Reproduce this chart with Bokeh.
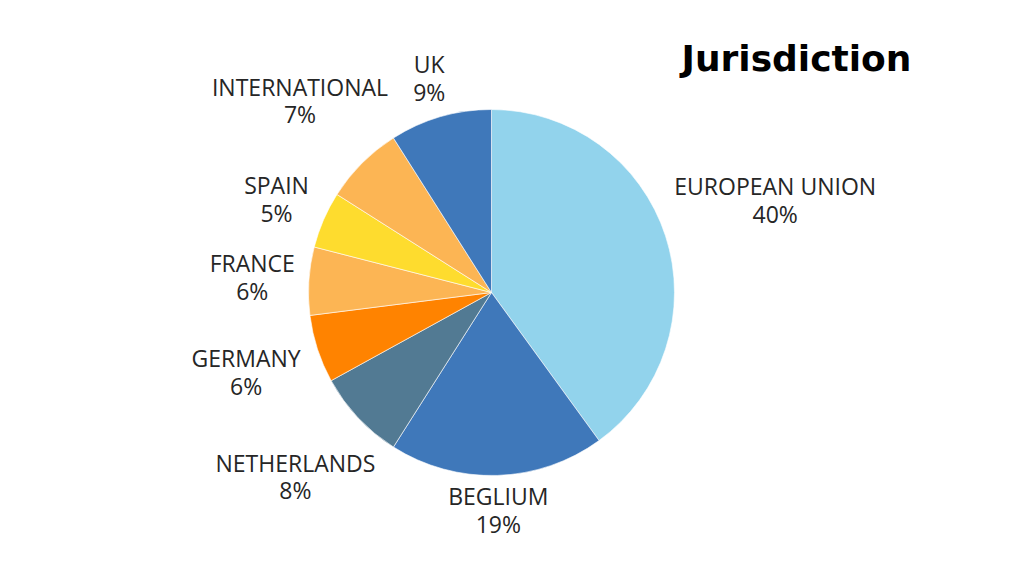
import math
from bokeh.plotting import figure
from bokeh.models import Range1d, ColumnDataSource
from bokeh.core.properties import value
from bokeh.embed import file_html
from bokeh.resources import INLINE

categories = ["EUROPEAN UNION", "BEGLIUM", "NETHERLANDS", "GERMANY", "FRANCE", "SPAIN", "INTERNATIONAL", "UK"]
shares = [40, 19, 8, 6, 6, 5, 7, 9]
colors = ["#92D3EC", "#3F78BA", "#527A93", "#FF8300", "#FCB554", "#FEDC2E", "#FCB554", "#3F78BA"]
# radial distance factor of each label (layout)
label_r = [1.63, 1.19, 1.47, 1.41, 1.31, 1.28, 1.48, 1.22]

W, H = 1008, 560
cx, cy, R = 491, 284, 183

p = figure(width=W, height=H, output_backend="svg", toolbar_location=None,
           x_range=Range1d(0, W), y_range=Range1d(576 - H, 576),
           min_border=0)
p.axis.visible = False
p.grid.visible = False
p.outline_line_color = None
p.background_fill_color = "white"
p.border_fill_color = "white"

total = sum(shares)
starts, ends, lx, ly_name, ly_pct, pct = [], [], [], [], [], []
cum = 0
for s, f in zip(shares, label_r):
    a0 = math.pi / 2 - 2 * math.pi * cum / total
    cum += s
    a1 = math.pi / 2 - 2 * math.pi * cum / total
    starts.append(a0)
    ends.append(a1)
    am = (a0 + a1) / 2
    x = cx + f * R * math.cos(am)
    y = cy + f * R * math.sin(am)
    lx.append(x)
    ly_name.append(y + 14)
    ly_pct.append(y - 13.5)
    pct.append(f"{round(100 * s / total)}%")

src = ColumnDataSource(dict(start=starts, end=ends, color=colors, name=categories,
                            pct=pct, lx=lx, lyn=ly_name, lyp=ly_pct))

p.wedge(x=cx, y=cy, radius=R, start_angle="start", end_angle="end", direction="clock",
        fill_color="color", line_color="white", line_width=0.6, source=src)

p.text(x="lx", y="lyn", text="name", source=src, text_font=value("Open Sans"),
       text_font_size="23px", text_color="#262626", text_align="center", text_baseline="middle")
p.text(x="lx", y="lyp", text="pct", source=src, text_font=value("Open Sans"),
       text_font_size="23px", text_color="#262626", text_align="center", text_baseline="middle")

p.text(x=[796], y=[576 - 58], text=["Jurisdiction"], text_font=value("DejaVu Sans"),
       text_font_style="bold", text_font_size="36px", text_color="black",
       text_align="center", text_baseline="middle")

open("out.html", "w").write(file_html(p, INLINE))
